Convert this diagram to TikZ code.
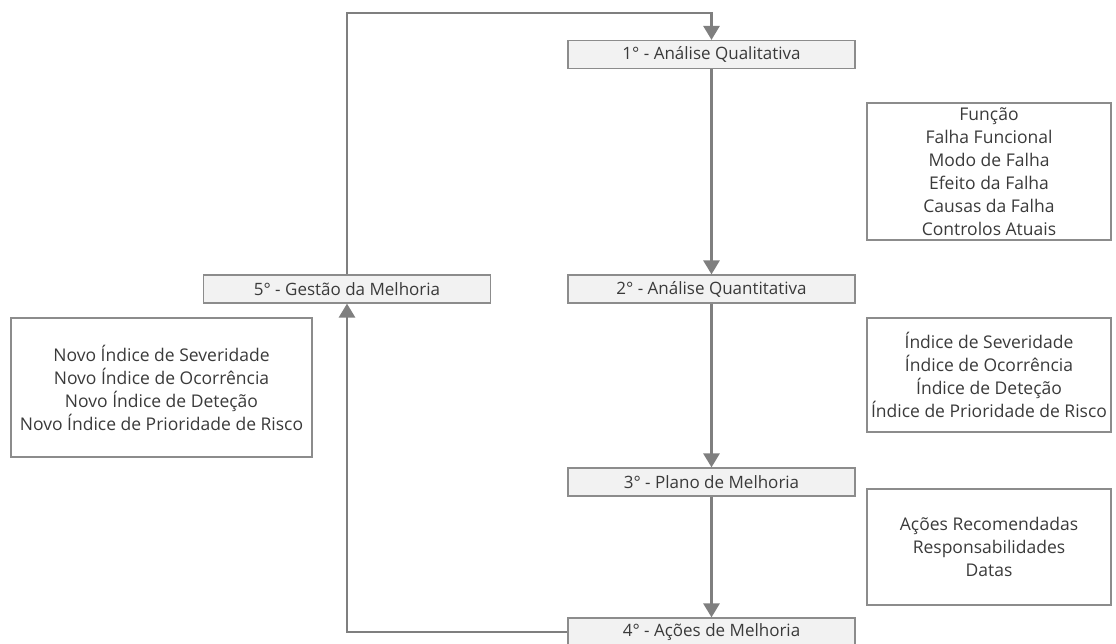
\documentclass[tikz,border=0pt]{standalone}
\usepackage{fontspec}
\setmainfont{Open Sans}
\usetikzlibrary{arrows.meta}
\definecolor{txt}{HTML}{3A3A3A}
\definecolor{boxline}{HTML}{8C8C8C}
\definecolor{stagefill}{HTML}{F2F2F2}
\definecolor{flowgray}{HTML}{7F7F7F}
\begin{document}
\begin{tikzpicture}[x=1pt,y=-1pt,
  stage/.style={draw=boxline, fill=stagefill, line width=1.2pt,
    minimum width=287pt, minimum height=28pt, inner sep=0pt,
    font=\fontsize{17}{19}\selectfont, text=txt},
  note/.style={draw=boxline, line width=1.2pt, align=center, inner sep=0pt,
    font=\fontsize{17.5}{23}\selectfont, text=txt},
  flow/.style={draw=flowgray, line width=2.8pt,
    -{Triangle[width=16pt,length=14pt]}}]
\useasboundingbox (0,0) rectangle (1116,644);

% stages of the cycle
\node[stage] (s1) at (711.5,54.5) {1° - Análise Qualitativa};
\node[stage] (s2) at (711.5,289) {2° - Análise Quantitativa};
\node[stage] (s3) at (711.5,482) {3° - Plano de Melhoria};
\node[stage] (s4) at (711.5,632) {4° - Ações de Melhoria};
\node[stage] (s5) at (347,289) {5° - Gestão da Melhoria};

% detail boxes
\node[note, minimum width=244pt, minimum height=137pt] (d1) at (989,171.5)
  {Função\\Falha Funcional\\Modo de Falha\\Efeito da Falha\\Causas da Falha\\Controlos Atuais};
\node[note, minimum width=244pt, minimum height=114pt] (d2) at (989,375)
  {Índice de Severidade\\Índice de Ocorrência\\Índice de Deteção\\Índice de Prioridade de Risco};
\node[note, minimum width=244pt, minimum height=116pt] (d3) at (989,547)
  {Ações Recomendadas\\Responsabilidades\\Datas};
\node[note, minimum width=301pt, minimum height=139pt] (d5) at (161.5,387.5)
  {Novo Índice de Severidade\\Novo Índice de Ocorrência\\Novo Índice de Deteção\\Novo Índice de Prioridade de Risco};

% connectors
\coordinate (loopT) at (347,13);
\draw[flow] (s1) -- (s2);
\draw[flow] (s2) -- (s3);
\draw[flow] (s3) -- (s4);
\draw[flow] (s4.west) -| (s5.south);
\draw[flow] (s5.north) -- (loopT) -| (s1.north);
\end{tikzpicture}
\end{document}
